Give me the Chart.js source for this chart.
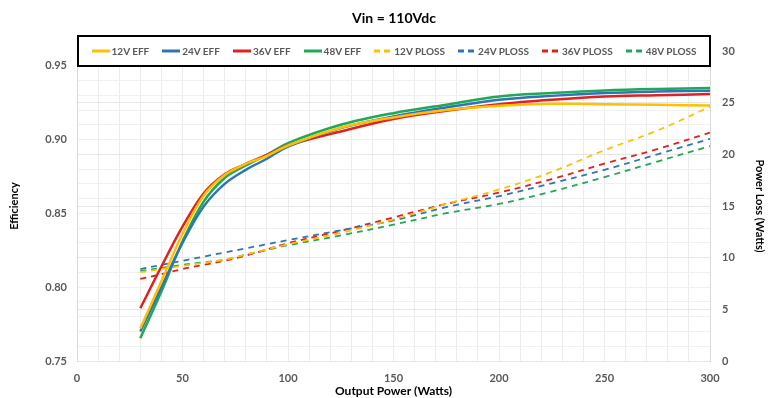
<!DOCTYPE html>
<html>
<head>
<meta charset="utf-8">
<script src="https://cdn.jsdelivr.net/npm/chart.js@4.4.1/dist/chart.umd.min.js"></script>
<style>
  html, body { margin: 0; padding: 0; background: #fff; }
  #wrap { position: relative; width: 768px; height: 398px; }
  #title { position: absolute; left: 77px; width: 634px; top: 9px; text-align: center;
           font: bold 14px Lato, sans-serif; color: #000; }
  #legend { position: absolute; left: 77px; top: 35px; width: 630px; height: 28px;
            border: 2px solid #000; background: #fff; display: flex; align-items: center;
            justify-content: center; gap: 13px; font: bold 10px Lato, sans-serif; color: #595959; }
  .item { display: flex; align-items: center; gap: 2px; white-space: nowrap; }
</style>
</head>
<body>
<div id="wrap">
  <canvas id="chart" width="768" height="398"></canvas>
  <div id="title">Vin = 110Vdc</div>
  <div id="legend"></div>
</div>
<script>
const power = [30, 40, 50, 60, 70, 80, 90, 100, 125, 150, 175, 200, 225, 250, 275, 300];

const eff12 = [0.772, 0.804, 0.836, 0.862, 0.876, 0.8835, 0.889, 0.896, 0.908, 0.915, 0.920, 0.9229, 0.9242, 0.924, 0.9236, 0.923];
const eff24 = [0.770, 0.800, 0.830, 0.8546, 0.870, 0.8795, 0.887, 0.8953, 0.9078, 0.9156, 0.9217, 0.9269, 0.9296, 0.9315, 0.9325, 0.9331];
const eff36 = [0.7857, 0.814, 0.841, 0.8635, 0.8765, 0.8835, 0.8897, 0.896, 0.9055, 0.9139, 0.9195, 0.924, 0.927, 0.9292, 0.930, 0.9308];
const eff48 = [0.7654, 0.797, 0.831, 0.858, 0.874, 0.8825, 0.8897, 0.8976, 0.910, 0.9179, 0.9236, 0.9292, 0.9315, 0.9333, 0.9343, 0.9349];

const ploss12 = [8.6, 8.9, 9.2, 9.5, 9.8, 10.3, 10.8, 11.3, 12.4, 13.7, 15.2, 16.6, 18.3, 20.4, 22.3, 24.6];
const ploss24 = [8.9, 9.3, 9.7, 10.1, 10.5, 10.9, 11.3, 11.7, 12.65, 13.6, 14.9, 15.95, 17.2, 18.5, 20.0, 21.5];
const ploss36 = [7.95, 8.4, 8.9, 9.3, 9.7, 10.2, 10.8, 11.4, 12.6, 13.9, 15.2, 16.3, 17.6, 19.1, 20.5, 22.1];
const ploss48 = [8.7, 9.0, 9.3, 9.55, 9.8, 10.3, 10.75, 11.2, 12.15, 13.2, 14.3, 15.2, 16.4, 17.8, 19.3, 20.8];

const colors = { v12: "#FFC000", v24: "#2E75B6", v36: "#E3201B", v48: "#1FA855" };

const pts = (ys) => ys.map((y, i) => ({ x: power[i], y }));

function effSet(label, ys, color) {
  return { label, data: pts(ys), yAxisID: "y", borderColor: color, backgroundColor: color,
           borderWidth: 2.5, pointRadius: 0, tension: 0.35 };
}
function lossSet(label, ys, color) {
  return { label, data: pts(ys), yAxisID: "y1", borderColor: color, backgroundColor: color,
           borderWidth: 1.8, borderDash: [6, 5], pointRadius: 0, tension: 0.35 };
}

const tickFont = { family: "Lato", size: 11, weight: "bold" };
const titleFont = { family: "Lato", size: 11, weight: "bold" };

const chart = new Chart(document.getElementById("chart"), {
  type: "line",
  data: {
    datasets: [
      effSet("12V EFF", eff12, colors.v12),
      effSet("24V EFF", eff24, colors.v24),
      effSet("36V EFF", eff36, colors.v36),
      effSet("48V EFF", eff48, colors.v48),
      lossSet("12V PLOSS", ploss12, colors.v12),
      lossSet("24V PLOSS", ploss24, colors.v24),
      lossSet("36V PLOSS", ploss36, colors.v36),
      lossSet("48V PLOSS", ploss48, colors.v48),
    ],
  },
  options: {
    responsive: false,
    animation: false,
    devicePixelRatio: 1,
    layout: { padding: { top: 51, left: 0, right: 0, bottom: 0 } },
    plugins: { legend: { display: false }, title: { display: false }, tooltip: { enabled: false } },
    scales: {
      x: {
        type: "linear", min: 0, max: 300,
        afterFit: (s) => { s.height = 37; },
        ticks: { stepSize: 10, autoSkip: false, maxRotation: 0, padding: 11, color: "#595959", font: tickFont,
                 callback: (v) => (v % 50 === 0 ? v : "") },
        grid: { color: "#ececec", drawTicks: false },
        border: { display: false },
        title: { display: true, text: "Output Power (Watts)", color: "#000", font: { ...titleFont, size: 12 },
                 padding: { top: 0, bottom: 0 } },
      },
      y: {
        position: "left", min: 0.75, max: 0.96,
        afterFit: (s) => { s.width = 77; },
        ticks: { stepSize: 0.01, autoSkip: false, padding: 10, color: "#595959", font: tickFont,
                 callback: (v) => (Math.round(v * 100) % 5 === 0 ? v.toFixed(2) : "") },
        grid: { color: "#f0f0f0", drawTicks: false },
        border: { color: "#d9d9d9" },
        title: { display: true, text: "Efficiency", color: "#000", font: titleFont, padding: { top: 8, bottom: 0 } },
      },
      y1: {
        position: "right", min: 0, max: 30,
        afterFit: (s) => { s.width = 58; },
        ticks: { stepSize: 5, padding: 12, color: "#595959", font: tickFont },
        grid: { color: "#e6e6e6", drawTicks: false },
        border: { color: "#d9d9d9" },
        title: { display: true, text: "Power Loss (Watts)", color: "#000", font: titleFont, padding: { top: 2, bottom: 0 } },
      },
    },
  },
});

// HTML legend inside the boxed frame, built from the datasets
const legend = document.getElementById("legend");
chart.data.datasets.forEach((ds) => {
  const item = document.createElement("span");
  item.className = "item";
  const dash = ds.borderDash ? 'stroke-dasharray="6 4"' : "";
  item.innerHTML =
    `<svg width="18" height="4"><line x1="0" y1="2" x2="18" y2="2" stroke="${ds.borderColor}" stroke-width="3" ${dash}/></svg>` +
    `<span>${ds.label}</span>`;
  legend.appendChild(item);
});
</script>
</body>
</html>
